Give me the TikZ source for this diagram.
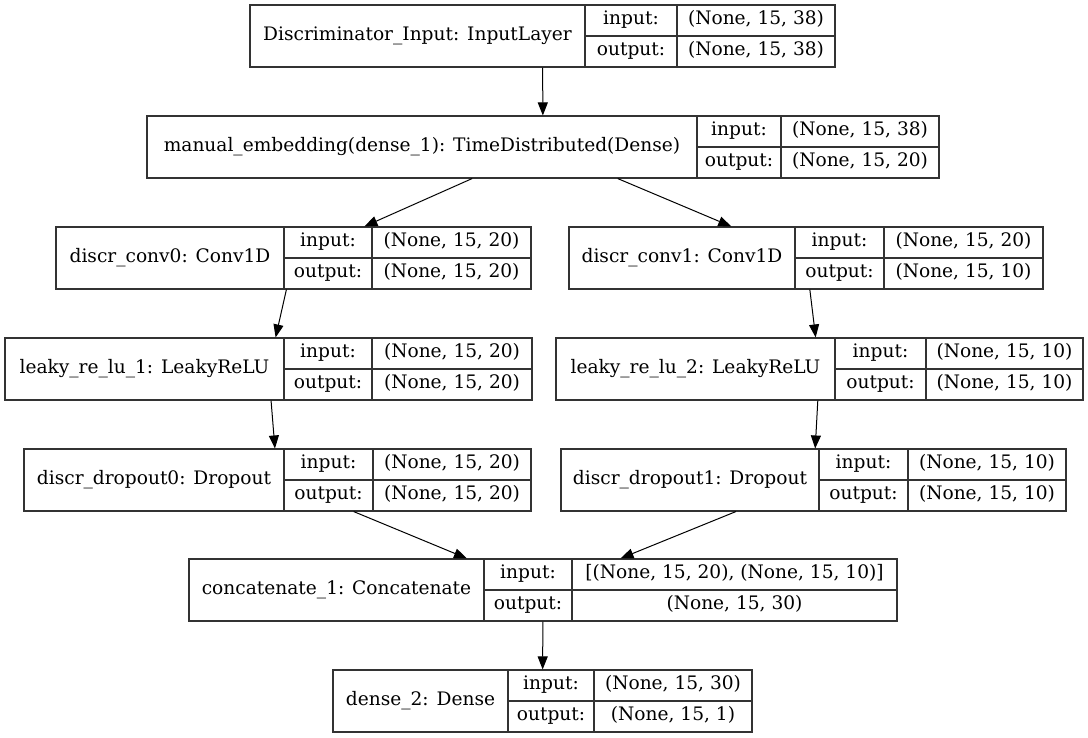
\documentclass[tikz,border=0pt]{standalone}
\usepackage{fontspec}
\setmainfont{DejaVu Serif}
\usetikzlibrary{arrows.meta,fit}
\newcommand{\kbox}[9]{%
  \pgfmathsetmacro{\kbot}{#6+62}%
  \pgfmathsetmacro{\kmid}{#6+31}%
  \node[layer, fit={(#2,#6) (#5,\kbot)}] (#1) {};
  \draw[cell] (#3,#6) -- (#3,\kbot) (#4,#6) -- (#4,\kbot) (#3,\kmid) -- (#5,\kmid);
  \node[txt] (#1-name) at ({(#2+#3)/2},\kmid) {#7};
  \node[txt] (#1-il) at ({(#3+#4)/2},{#6+15.5}) {input:};
  \node[txt] (#1-ol) at ({(#3+#4)/2},{#6+46.5}) {output:};
  \node[txt] (#1-iv) at ({(#4+#5)/2},{#6+15.5}) {#8};
  \node[txt] (#1-ov) at ({(#4+#5)/2},{#6+46.5}) {#9};
}

\begin{document}
\begin{tikzpicture}[x=1pt, y=-1pt,
  every node/.style={font=\fontsize{18.6}{22}\selectfont},
  layer/.style={draw=black!80, line width=1.1pt, inner sep=0pt},
  cell/.style={draw=black!80, line width=1.1pt},
  txt/.style={inner sep=0pt, text height=0.85em, text depth=0.04em},
  edge/.style={-{Triangle[length=13pt, width=10pt]}, line width=1pt}]
  \useasboundingbox (0,0) rectangle (1088,737);
  \kbox{inp}{250}{585}{677}{835}{5}{Discriminator\_Input: InputLayer}{(None, 15, 38)}{(None, 15, 38)}
  \kbox{emb}{147}{697}{781}{939}{116}{manual\_embedding(dense\_1): TimeDistributed(Dense)}{(None, 15, 38)}{(None, 15, 20)}
  \kbox{conva}{56}{284}{372}{531}{227}{discr\_conv0: Conv1D}{(None, 15, 20)}{(None, 15, 20)}
  \kbox{convb}{569}{795}{884}{1043}{227}{discr\_conv1: Conv1D}{(None, 15, 20)}{(None, 15, 10)}
  \kbox{relua}{5}{284}{372}{532}{338}{leaky\_re\_lu\_1: LeakyReLU}{(None, 15, 20)}{(None, 15, 20)}
  \kbox{relub}{556}{835}{926}{1083}{338}{leaky\_re\_lu\_2: LeakyReLU}{(None, 15, 10)}{(None, 15, 10)}
  \kbox{dropa}{24}{284}{373}{531}{449}{discr\_dropout0: Dropout}{(None, 15, 20)}{(None, 15, 20)}
  \kbox{dropb}{561}{819}{908}{1066}{449}{discr\_dropout1: Dropout}{(None, 15, 10)}{(None, 15, 10)}
  \kbox{cat}{189}{484}{572}{897}{559}{concatenate\_1: Concatenate}{[(None, 15, 20), (None, 15, 10)]}{(None, 15, 30)}
  \kbox{dns}{333}{508}{594}{752}{670}{dense\_2: Dense}{(None, 15, 30)}{(None, 15, 1)}
  \draw[edge] (inp) -- (emb);
  \draw[edge] (emb) -- (conva);
  \draw[edge] (emb) -- (convb);
  \draw[edge] (conva) -- (relua);
  \draw[edge] (convb) -- (relub);
  \draw[edge] (relua) -- (dropa);
  \draw[edge] (relub) -- (dropb);
  \draw[edge] (dropa) -- (cat);
  \draw[edge] (dropb) -- (cat);
  \draw[edge] (cat) -- (dns);
\end{tikzpicture}
\end{document}
